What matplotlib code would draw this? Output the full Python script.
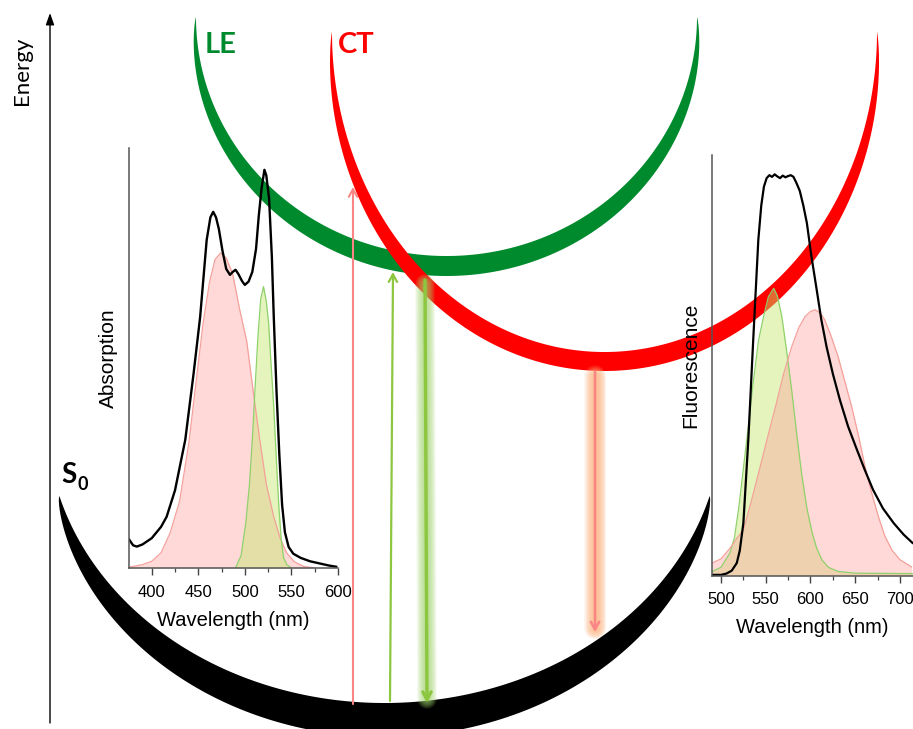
import numpy as np
import matplotlib.pyplot as plt
from matplotlib.patches import Polygon

# ---- inset 1: absorption (wavelength nm, normalised) ----
abs_wl = [376, 380, 384, 390, 400, 410, 416, 425, 436, 445, 452, 459, 463, 466, 469, 472,
          476, 480, 484, 487, 490, 493, 497, 500, 504, 508, 512, 515, 518, 521, 523, 526,
          529, 531, 534, 537, 540, 543, 547, 552, 560, 570, 580, 590, 598]
abs_total = [0.067, 0.054, 0.051, 0.056, 0.071, 0.098, 0.122, 0.185, 0.305, 0.464, 0.598,
             0.781, 0.835, 0.848, 0.835, 0.808, 0.755, 0.712, 0.698, 0.705, 0.710, 0.700,
             0.683, 0.674, 0.682, 0.705, 0.760, 0.840, 0.905, 0.948, 0.935, 0.880, 0.740,
             0.600, 0.420, 0.270, 0.150, 0.085, 0.050, 0.034, 0.024, 0.016, 0.011, 0.006,
             0.003]
ct_abs_wl = [376, 390, 400, 410, 420, 430, 440, 448, 455, 462, 468, 474, 480, 487, 494,
             502, 509, 516, 523, 531, 538, 545, 553, 563, 575]
ct_abs = [0.002, 0.008, 0.016, 0.036, 0.085, 0.160, 0.300, 0.450, 0.580, 0.680, 0.735,
          0.750, 0.738, 0.700, 0.620, 0.540, 0.420, 0.305, 0.200, 0.122, 0.070, 0.036,
          0.015, 0.004, 0.0]
le_abs_wl = [490, 496, 501, 505, 508, 511, 514, 517, 520, 523, 525.5, 528, 531, 534,
             536.5, 539, 541.5, 545, 550]
le_abs = [0.0, 0.03, 0.107, 0.20, 0.305, 0.43, 0.55, 0.64, 0.670, 0.635, 0.583, 0.49,
          0.384, 0.25, 0.146, 0.07, 0.025, 0.008, 0.0]

# ---- inset 2: fluorescence ----
fl_wl = [490, 500, 506, 512, 517.6, 521, 525, 530.5, 536, 541.7, 545, 548, 551, 554, 557,
         560, 563, 566, 569, 572, 575, 578, 581, 584, 588, 592, 596, 601, 607, 612, 618,
         625, 633, 642, 652, 661, 670, 681, 693, 704, 714]
fl_total = [0.002, 0.002, 0.005, 0.012, 0.03, 0.06, 0.125, 0.322, 0.56, 0.798, 0.88, 0.925,
            0.945, 0.952, 0.948, 0.954, 0.949, 0.945, 0.951, 0.947, 0.950, 0.952, 0.948,
            0.935, 0.915, 0.88, 0.838, 0.76, 0.679, 0.61, 0.544, 0.48, 0.417, 0.355, 0.299,
            0.25, 0.204, 0.16, 0.125, 0.098, 0.078]
le_fl_wl = [490, 500, 510, 515, 520, 525, 531, 536, 542, 548, 553, 559, 563, 568, 573, 579,
            585, 590, 596, 602, 607, 613, 620, 631, 650, 714]
le_fl = [0.01, 0.02, 0.054, 0.09, 0.164, 0.255, 0.363, 0.46, 0.56, 0.62, 0.663, 0.683,
         0.665, 0.616, 0.54, 0.441, 0.33, 0.244, 0.16, 0.101, 0.065, 0.037, 0.02, 0.01,
         0.006, 0.005]
ct_fl_wl = [490, 500, 510, 518, 525, 533, 542, 551, 561, 570, 579, 587, 594, 600, 605, 611,
            616, 623, 631, 638, 646, 654, 661, 668, 676, 683, 691, 700, 713]
ct_fl = [0.03, 0.04, 0.065, 0.09, 0.109, 0.17, 0.244, 0.32, 0.402, 0.48, 0.544, 0.59,
         0.616, 0.628, 0.632, 0.625, 0.608, 0.57, 0.52, 0.465, 0.402, 0.33, 0.259, 0.2,
         0.14, 0.095, 0.061, 0.038, 0.021]

W, H = 913, 729
LE_GREEN = '#008A2E'
CT_RED = '#FF0000'
PINK = '#F98585'
LIME = '#8DC63F'


def crescent(cx, cy, rx, ry, t0, t1, width, p):
    # inner edge is an ellipse arc, outer edge is pushed out along the normal
    t = np.linspace(t0, t1, 600)
    x = cx + rx * np.cos(t)
    y = cy + ry * np.sin(t)
    nx, ny = np.cos(t) / rx, np.sin(t) / ry
    n = np.hypot(nx, ny)
    s = (t - t0) / (t1 - t0)
    w = width * np.sin(np.pi * s) ** p
    xo = x + w * nx / n
    yo = y + w * ny / n
    return np.column_stack([np.r_[x, xo[::-1]], np.r_[y, yo[::-1]]])


def glow_line(ax, x0, y0, x1, y1, color, max_lw, alpha):
    for lw in np.arange(2, max_lw + 1, 1.5):
        ax.plot([x0, x1], [y0, y1], color=color, lw=lw, alpha=alpha,
                solid_capstyle='round', zorder=2)


fig = plt.figure(figsize=(W / 100, H / 100), dpi=100)
ax = fig.add_axes([0, 0, 1, 1])
ax.set_xlim(0, W)
ax.set_ylim(H, 0)
ax.axis('off')

# potential curves
ax.add_patch(Polygon(crescent(446.5, 17, 250.5, 239, 0, np.pi, 20, 0.75),
                     closed=True, fc=LE_GREEN, ec='none', zorder=1))
ax.add_patch(Polygon(crescent(604.5, 32, 272.5, 320, 0, np.pi, 19, 0.75),
                     closed=True, fc=CT_RED, ec='none', zorder=1))
phi0 = np.arcsin(76 / 283)
ax.add_patch(Polygon(crescent(384.5, 420, 337.5, 283, phi0, np.pi - phi0, 34, 0.7),
                     closed=True, fc='black', ec='none', zorder=1))

# energy axis
ax.annotate('', xy=(50, 13), xytext=(50, 723),
            arrowprops=dict(arrowstyle='-|>,head_length=0.7,head_width=0.25',
                            color='black', lw=1.0, shrinkA=0, shrinkB=0))
ax.text(22, 71, 'Energy', rotation=90, ha='center', va='center',
        fontsize=16, family='Lato')

ax.text(205, 53, 'LE', color=LE_GREEN, fontsize=21, fontweight='bold', family='Lato')
ax.text(338, 53, 'CT', color=CT_RED, fontsize=21, fontweight='bold', family='Lato')
ax.text(61, 483, 'S', fontsize=20, fontweight='bold', family='Lato')
ax.text(77, 490, '0', fontsize=13, fontweight='bold', family='Lato')

# soft glows behind the emission arrows
glow_line(ax, 425, 284, 427, 699, '#9FD46A', 14, 0.13)
glow_line(ax, 595, 376, 595, 628, '#FDB27C', 15, 0.15)

arrow_kw = dict(arrowstyle='->,head_length=0.55,head_width=0.3', shrinkA=0, shrinkB=0)
ax.annotate('', xy=(353, 187), xytext=(353, 704),
            arrowprops=dict(color=PINK, lw=1.5, **arrow_kw), zorder=3)
ax.annotate('', xy=(393, 272), xytext=(390, 701),
            arrowprops=dict(color=LIME, lw=1.6, **arrow_kw), zorder=3)
ax.annotate('', xy=(427, 703), xytext=(425, 280),
            arrowprops=dict(color=LIME, lw=2.4, **arrow_kw), zorder=3)
ax.annotate('', xy=(595, 632), xytext=(595, 372),
            arrowprops=dict(color=PINK, lw=1.8, **arrow_kw), zorder=3)


def style_inset(a, xmin, xmax, ylabel):
    a.set_facecolor('none')
    a.set_xlim(xmin, xmax)
    a.set_ylim(0, 1)
    for side in ['top', 'right']:
        a.spines[side].set_visible(False)
    for side in ['left', 'bottom']:
        a.spines[side].set_color('#555555')
        a.spines[side].set_linewidth(1.1)
    a.set_yticks([])
    a.tick_params(axis='x', which='major', direction='out', length=5, width=1.0,
                  color='#444444', labelsize=12, pad=7)
    a.tick_params(axis='x', which='minor', direction='out', length=3, width=0.9,
                  color='#444444')
    a.set_xlabel('Wavelength (nm)', fontsize=14.5, labelpad=8)
    a.set_ylabel(ylabel, fontsize=15, labelpad=8)


plt.rcParams['font.family'] = ['Liberation Sans', 'DejaVu Sans']

ax1 = fig.add_axes([129 / W, (H - 568) / H, 209 / W, 420 / H])
style_inset(ax1, 375.6, 600, 'Absorption')
ax1.set_xticks([400, 450, 500, 550, 600])
ax1.set_xticks([425, 475, 525, 575], minor=True)
ax1.fill_between(ct_abs_wl, ct_abs, color='#FF9999', alpha=0.38, lw=0)
ax1.plot(ct_abs_wl, ct_abs, color='#F4A09A', lw=0.9)
ax1.fill_between(le_abs_wl, le_abs, color='#C5E86C', alpha=0.45, lw=0)
ax1.plot(le_abs_wl, le_abs, color='#8FD16B', lw=0.9)
ax1.plot(abs_wl, abs_total, color='black', lw=1.7)

ax2 = fig.add_axes([711.7 / W, (H - 575.7) / H, (W - 711.7) / W, 420.7 / H])
style_inset(ax2, 489.6, 714.6, 'Fluorescence')
ax2.set_xticks([500, 550, 600, 650, 700])
ax2.set_xticks([525, 575, 625, 675], minor=True)
ax2.fill_between(le_fl_wl, le_fl, color='#C5E86C', alpha=0.45, lw=0)
ax2.plot(le_fl_wl, le_fl, color='#8FD16B', lw=0.9)
ax2.fill_between(ct_fl_wl, ct_fl, color='#FF9999', alpha=0.38, lw=0)
ax2.plot(ct_fl_wl, ct_fl, color='#F4A09A', lw=0.9)
ax2.plot(fl_wl, fl_total, color='black', lw=1.6)

fig.savefig('out.png', dpi=100)
